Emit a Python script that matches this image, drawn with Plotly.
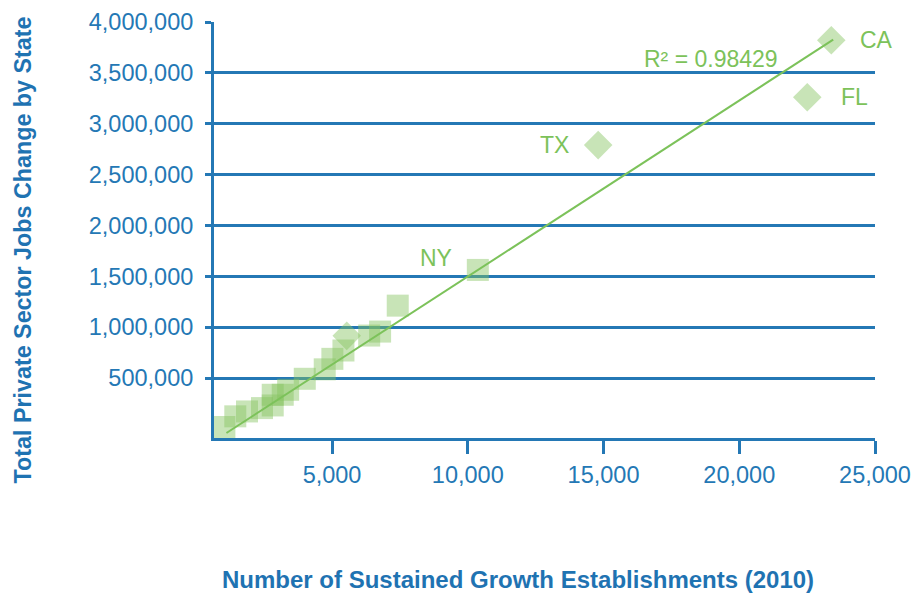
import plotly.graph_objects as go

# ---- data ----
establishments = [1035, 1437, 1868, 2420, 2815, 2815, 3184, 3383, 3995, 4731,
                  5012, 5420, 5541, 6368, 6770, 7420, 10370, 14803, 22505, 23390]
jobs_change = [19000, 124000, 172000, 205000, 231000, 336000, 336000, 385000, 493000, 586000,
               689000, 771000, 915000, 918000, 957000, 1212000, 1563000, 2790000, 3261000, 3821000]
state_labels = ["", "", "", "", "", "", "", "", "", "",
                "", "", "", "", "", "", "NY", "TX", "FL", "CA"]
marker_shapes = ["square"] * 12 + ["diamond"] + ["square"] * 4 + ["diamond"] * 3
# linear trendline as drawn in the reference (end points)
trend_x = [1110, 23460]
trend_y = [-40000, 3827000]
r2_text = "R² = 0.98429"
y_tick_values = [500000, 1000000, 1500000, 2000000, 2500000, 3000000, 3500000, 4000000]
x_tick_values = [5000, 10000, 15000, 20000, 25000]
x_title = "Number of Sustained Growth Establishments (2010)"
y_title = "Total Private Sector Jobs Change by State"

BLUE = "#2478B5"
TITLE_BLUE = "#1F73B2"
GREEN = "#7CC25A"
FONT = "Liberation Sans, Arial, sans-serif"

fig = go.Figure()
fig.add_trace(go.Scatter(
    x=establishments, y=jobs_change, mode="markers",
    marker=dict(symbol=marker_shapes, size=22, color="rgba(134,195,95,0.45)",
                line=dict(width=0)),
    showlegend=False, hoverinfo="skip"))
fig.add_trace(go.Scatter(
    x=trend_x, y=trend_y, mode="lines",
    line=dict(color=GREEN, width=2), showlegend=False, hoverinfo="skip"))

# state labels
label_offsets = {"CA": (27, 0, "left"), "FL": (32, 0, "left"),
                 "TX": (-27, 0, "right"), "NY": (-24, 12, "right")}
for xv, yv, lab in zip(establishments, jobs_change, state_labels):
    if not lab:
        continue
    dx, dy, anchor = label_offsets[lab]
    fig.add_annotation(x=xv, y=yv, xref="x", yref="y", text=lab, showarrow=False,
                       xanchor=anchor, yanchor="middle", xshift=dx, yshift=dy,
                       font=dict(family=FONT, size=23, color=GREEN))

fig.add_annotation(x=0.752, y=0.9105, xref="paper", yref="paper", text=r2_text,
                   showarrow=False, xanchor="center", yanchor="middle",
                   font=dict(family=FONT, size=23, color=GREEN))

# axis titles
fig.add_annotation(x=0.46, y=-0.34, xref="paper", yref="paper", text="<b>" + x_title + "</b>",
                   showarrow=False, xanchor="center", yanchor="middle",
                   font=dict(family=FONT, size=24, color=TITLE_BLUE))
fig.add_annotation(x=-0.2897, y=0.452, xref="paper", yref="paper", text="<b>" + y_title + "</b>",
                   showarrow=False, xanchor="center", yanchor="middle", textangle=-90,
                   font=dict(family=FONT, size=23.3, color=TITLE_BLUE))

fig.update_layout(
    width=913, height=599, autosize=False,
    margin=dict(l=214, r=38, t=22, b=161, pad=0, autoexpand=False),
    plot_bgcolor="white", paper_bgcolor="white",
    font=dict(family=FONT, color=BLUE),
    xaxis=dict(range=[652, 25000], tickvals=x_tick_values, tickformat=",d", automargin=False,
               showgrid=False, zeroline=False, showline=True, linecolor=BLUE, linewidth=3,
               ticks="outside", ticklen=13, tickwidth=2.5, tickcolor=BLUE,
               tickfont=dict(family=FONT, size=23.5, color=BLUE), ticklabelstandoff=1),
    yaxis=dict(range=[-89000, 4000000], tickvals=y_tick_values, tickformat=",d", automargin=False,
               showgrid=True, gridcolor=BLUE, gridwidth=2.5, zeroline=False,
               showline=True, linecolor=BLUE, linewidth=3,
               ticks="outside", ticklen=6, tickwidth=2.5, tickcolor=BLUE,
               tickfont=dict(family=FONT, size=23.5, color=BLUE), ticklabelstandoff=7),
)

fig.write_html(
    "out.html",
    config={"displayModeBar": False, "responsive": False},
    post_script=("document.documentElement.style.overflow='hidden';"
                 "document.body.style.overflow='hidden';"
                 "document.body.style.margin='0px';"),
)
